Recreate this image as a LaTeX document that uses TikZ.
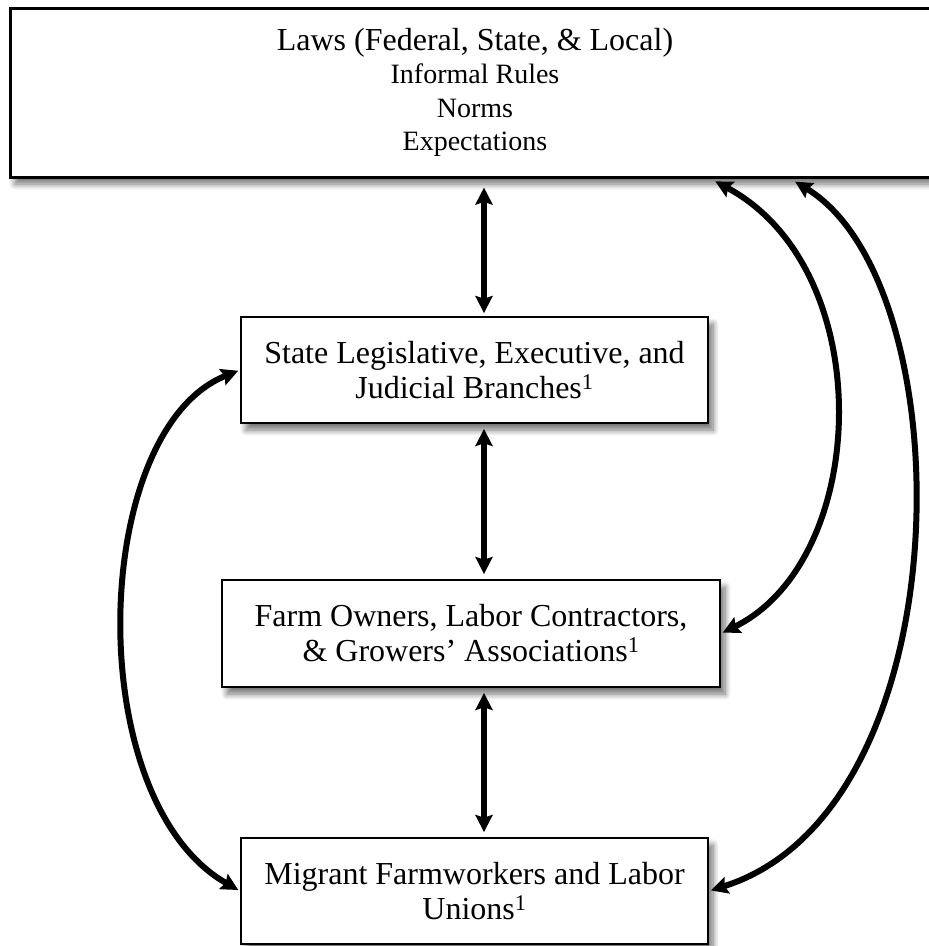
\documentclass[tikz,border=0pt]{standalone}
\usepackage{fontspec}
\setmainfont{Liberation Serif}
\usetikzlibrary{arrows.meta,shadows.blur}

\tikzset{
  panel/.style={draw=black, fill=white, line width=1.8pt, align=center,
    inner sep=0pt, font=\fontsize{32}{35}\selectfont,
    blur shadow={shadow xshift=5pt, shadow yshift=-7pt,
      shadow blur radius=6pt, shadow blur steps=10, shadow opacity=55}},
  lawpanel/.style={panel, line width=3pt, font=\fontsize{28}{33.5}\selectfont},
  tip/.tip={Stealth[length=17pt,width=17pt,inset=2.5pt]},
  link/.style={line width=6pt, tip-tip}
}

\begin{document}
\begin{tikzpicture}[x=1pt,y=-1pt]
  \useasboundingbox (0,0) rectangle (929,946);

  % institutional context
  \node[lawpanel, minimum width=930pt, minimum height=169pt] (laws) at (475,92.5)
    {{\fontsize{32}{33.5}\selectfont Laws (Federal, State, \& Local)}\\Informal Rules\\Norms\\Expectations};

  % actors
  \node[panel, minimum width=467pt, minimum height=106pt] (state) at (474.5,370)
    {State Legislative, Executive, and\\Judicial Branches\textsuperscript{1}};
  \node[panel, minimum width=498pt, minimum height=107pt] (farm) at (471,633.5)
    {Farm Owners, Labor Contractors,\\\& Growers’ Associations\textsuperscript{1}};
  \node[panel, minimum width=467pt, minimum height=106pt] (workers) at (474.5,891)
    {Migrant Farmworkers and Labor\\Unions\textsuperscript{1}};

  % anchor columns for the connectors
  \coordinate (axis) at (484,0);
  \coordinate (colA) at (710,0);
  \coordinate (colB) at (790,0);

  % vertical chain
  \draw[link, shorten <=9pt, shorten >=3pt] (laws.south -| axis) -- (state.north -| axis);
  \draw[link, shorten <=5pt, shorten >=5pt] (state.south -| axis) -- (farm.north -| axis);
  \draw[link, shorten <=5pt, shorten >=5pt] (farm.south -| axis) -- (workers.north -| axis);

  % long-range links
  \draw[link, shorten <=2pt, shorten >=2pt] (state.west) .. controls (90,430) and (80,800) .. (workers.west);
  \draw[link, shorten <=6pt, shorten >=2pt] (laws.south -| colA) .. controls (880,270) and (870,560) .. (farm.east);
  \draw[link, shorten <=6pt, shorten >=2pt] (laws.south -| colB) .. controls (965,285) and (965,810) .. (workers.east);
\end{tikzpicture}
\end{document}
